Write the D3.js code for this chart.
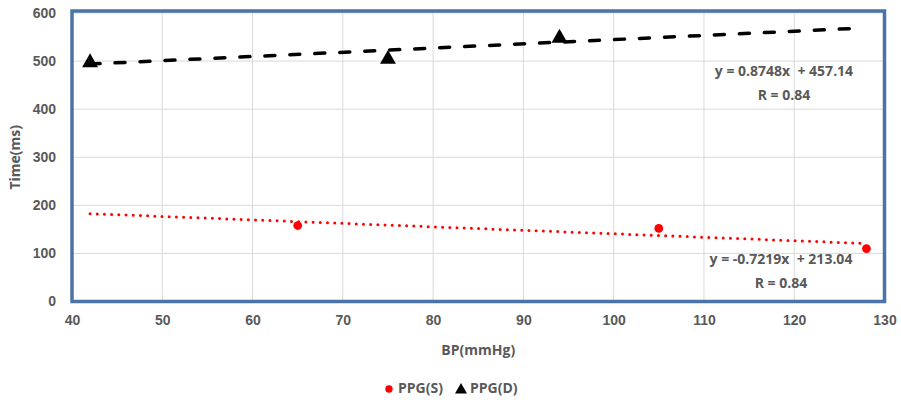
<!DOCTYPE html>
<html>
<head>
<meta charset="utf-8">
<script src="https://cdn.jsdelivr.net/npm/d3@7"></script>
<style>
  html, body { margin: 0; padding: 0; background: #fff; }
  svg { display: block; font-family: "Open Sans", "Noto Sans", sans-serif; }
</style>
</head>
<body>
<svg id="chart" width="901" height="402"></svg>
<script>
// ---- data ----
const seriesNames = ["PPG(S)", "PPG(D)"];
const ppgS_x = [65, 105, 128];
const ppgS_y = [158, 152, 110];
const ppgD_x = [42, 75, 94];
const ppgD_y = [499, 506, 550];
// trendline equations: y = slope * x + intercept, drawn over xRange
const trendS = { slope: -0.7219, intercept: 213.04, xRange: [42, 128] };
const trendD = { slope: 0.8748, intercept: 457.14, xRange: [42, 127] };
const eqLabelsS = ["y = -0.7219x  + 213.04", "R = 0.84"];
const eqLabelsD = ["y = 0.8748x  + 457.14", "R = 0.84"];
const xTicks = [40, 50, 60, 70, 80, 90, 100, 110, 120, 130];
const yTicks = [0, 100, 200, 300, 400, 500, 600];
const xTitle = "BP(mmHg)";
const yTitle = "Time(ms)";

// ---- layout ----
const svg = d3.select("#chart");
const L = 72, R = 884.5, T = 13, B = 301.5;
const x = d3.scaleLinear().domain([40, 130]).range([L, R]);
const y = d3.scaleLinear().domain([0, 600]).range([B, T]);
const textColor = "#595959";

// grid
const grid = svg.append("g");
grid.selectAll("line.v").data(xTicks.slice(1, -1)).join("line")
  .attr("x1", d => x(d)).attr("x2", d => x(d))
  .attr("y1", y(600) - 2).attr("y2", B)
  .attr("stroke", "#d9d9d9").attr("stroke-width", 1);
grid.selectAll("line.h").data(yTicks.slice(1)).join("line")
  .attr("x1", L).attr("x2", R)
  .attr("y1", d => y(d)).attr("y2", d => y(d))
  .attr("stroke", "#d9d9d9").attr("stroke-width", 1);

// axes (tick labels only)
const xAxis = d3.axisBottom(x).tickValues(xTicks).tickSize(0).tickPadding(14);
const gx = svg.append("g").attr("transform", `translate(0,${B})`).call(xAxis);
gx.select(".domain").remove();
gx.selectAll("text").attr("fill", textColor).attr("font-size", 14).attr("font-weight", "bold");

const yAxis = d3.axisLeft(y).tickValues(yTicks).tickSize(0).tickPadding(16);
const gy = svg.append("g").attr("transform", `translate(${L},0)`).call(yAxis);
gy.select(".domain").remove();
gy.selectAll("text").attr("fill", textColor).attr("font-size", 14).attr("font-weight", "bold");

// axis titles
svg.append("text").attr("x", (L + R) / 2).attr("y", 355)
  .attr("text-anchor", "middle").attr("fill", textColor)
  .attr("font-size", 14).attr("font-weight", "bold").text(xTitle);
svg.append("text").attr("transform", `translate(20,${(T + B) / 2}) rotate(-90)`)
  .attr("text-anchor", "middle").attr("fill", textColor)
  .attr("font-size", 14).attr("font-weight", "bold").text(yTitle);

// trendlines
function trendPts(t) { return t.xRange.map(v => [x(v), y(t.slope * v + t.intercept)]); }
const line = d3.line();
svg.append("path").attr("d", line(trendPts(trendS)))
  .attr("fill", "none").attr("stroke", "#ff0000").attr("stroke-width", 3)
  .attr("stroke-linecap", "round").attr("stroke-dasharray", "0,7.2");
svg.append("path").attr("d", line(trendPts(trendD)))
  .attr("fill", "none").attr("stroke", "#000").attr("stroke-width", 3.5)
  .attr("stroke-linecap", "round").attr("stroke-dasharray", "10,15");

// markers
const sData = ppgS_x.map((v, i) => [v, ppgS_y[i]]);
const dData = ppgD_x.map((v, i) => [v, ppgD_y[i]]);
const starSym = d3.symbol().type(d3.symbolCircle).size(60);
const triSym = d3.symbol().type(d3.symbolTriangle).size(110);
svg.append("g").selectAll("path").data(sData).join("path")
  .attr("d", starSym).attr("transform", d => `translate(${x(d[0])},${y(d[1])})`)
  .attr("fill", "#ff0000");
svg.append("g").selectAll("path").data(dData).join("path")
  .attr("d", triSym).attr("transform", d => `translate(${x(d[0])},${y(d[1]) + 1})`)
  .attr("fill", "#000");

// frame
svg.append("rect").attr("x", L).attr("y", T - 2).attr("width", R - L).attr("height", B - T + 2)
  .attr("fill", "none").attr("stroke", "#4a74a6").attr("stroke-width", 3.5);

// equation labels
function eq(lines, cx, cy) {
  svg.append("g").selectAll("text").data(lines).join("text")
    .attr("x", cx).attr("y", (d, i) => cy + i * 24)
    .attr("text-anchor", "middle").attr("dominant-baseline", "middle")
    .attr("fill", textColor).attr("font-size", 14).attr("font-weight", "bold")
    .attr("xml:space", "preserve").style("white-space", "pre")
    .text(d => d);
}
eq(eqLabelsD, 784, 72);
eq(eqLabelsS, 781, 260);

// legend
const leg = svg.append("g");
leg.append("path").attr("d", starSym).attr("transform", "translate(389,389) scale(0.85)").attr("fill", "#ff0000");
leg.append("text").attr("x", 398).attr("y", 389).attr("dominant-baseline", "middle")
  .attr("fill", textColor).attr("font-size", 14).attr("font-weight", "bold").text(seriesNames[0]);
leg.append("path").attr("d", triSym).attr("transform", "translate(461,390) scale(0.75)").attr("fill", "#000");
leg.append("text").attr("x", 470).attr("y", 389).attr("dominant-baseline", "middle")
  .attr("fill", textColor).attr("font-size", 14).attr("font-weight", "bold").text(seriesNames[1]);
</script>
</body>
</html>
